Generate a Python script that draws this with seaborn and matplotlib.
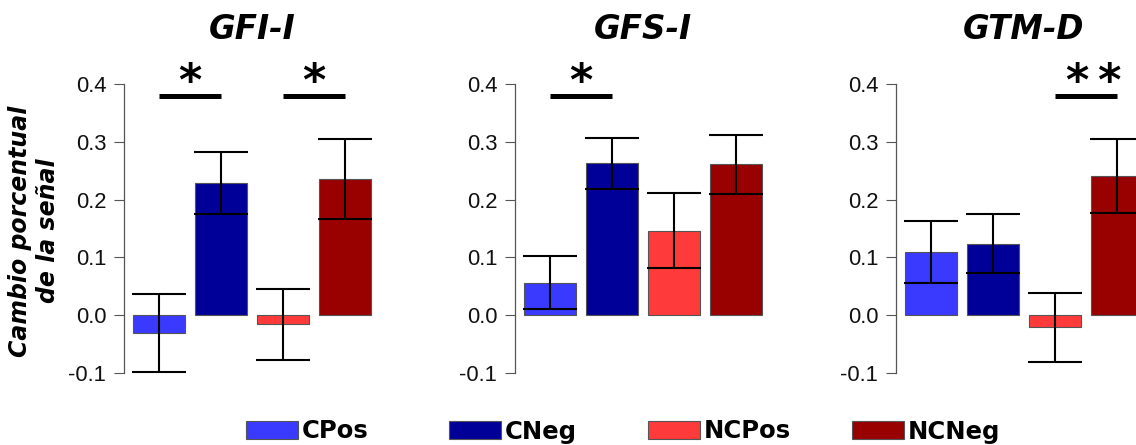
import matplotlib
matplotlib.use("Agg")
import matplotlib.pyplot as plt
import seaborn as sns
import pandas as pd
from matplotlib.patches import Patch

# ---- data ----
groups = ["CPos", "CNeg", "NCPos", "NCNeg"]
colors = ["#3a3aff", "#000099", "#ff3a3a", "#990000"]
titles = ["GFI-I", "GFS-I", "GTM-D"]
gfi_mean = [-0.031, 0.229, -0.016, 0.235]
gfi_err = [0.067, 0.054, 0.062, 0.069]
gfs_mean = [0.056, 0.263, 0.146, 0.261]
gfs_err = [0.046, 0.044, 0.065, 0.051]
gtm_mean = [0.109, 0.124, -0.021, 0.240]
gtm_err = [0.054, 0.051, 0.060, 0.064]
sig_gfi = [(0, 1, "*"), (2, 3, "*")]
sig_gfs = [(0, 1, "*")]
sig_gtm = [(2, 3, "*\u2009*")]
yticks = [-0.1, 0.0, 0.1, 0.2, 0.3, 0.4]
ytick_labels = ["-0.1", "0.0", "0.1", "0.2", "0.3", "0.4"]
ylabel = "Cambio porcentual\nde la señal"

panels = [
    (titles[0], gfi_mean, gfi_err, sig_gfi),
    (titles[1], gfs_mean, gfs_err, sig_gfs),
    (titles[2], gtm_mean, gtm_err, sig_gtm),
]

sns.set_style("white")
plt.rcParams["font.family"] = ["DejaVu Sans"]
plt.rcParams["text.color"] = "black"

W, H = 1136, 445
fig = plt.figure(figsize=(W / 100, H / 100), dpi=100)

ax_lefts_px = [124, 515, 896]
ax_w_px = 255
ax_top_px, ax_bot_px = 84, 373

for (title, means, errs, sigs), left in zip(panels, ax_lefts_px):
    ax = fig.add_axes([left / W, (H - ax_bot_px) / H, ax_w_px / W,
                       (ax_bot_px - ax_top_px) / H])
    df = pd.DataFrame({"grupo": groups, "valor": means})
    sns.barplot(data=df, x="grupo", y="valor", hue="grupo", order=groups,
                hue_order=groups, palette=colors, saturation=1, width=0.84,
                errorbar=None, edgecolor="#555555", linewidth=0.8,
                legend=False, ax=ax)
    ax.errorbar(range(len(groups)), means, yerr=errs, fmt="none",
                ecolor="black", elinewidth=1.5, capsize=19.5, capthick=1.5,
                clip_on=False, zorder=5)
    ax.set_xlim(-0.565, 3.55)
    ax.set_ylim(-0.1, 0.4)
    ax.set_yticks(yticks)
    ax.set_yticklabels(ytick_labels, family="Liberation Sans", fontsize=15.8,
                       color="#111111")
    ax.set_xticks([])
    ax.set_xlabel("")
    ax.set_ylabel("")
    for s in ["top", "right", "bottom"]:
        ax.spines[s].set_visible(False)
    ax.spines["left"].set_color("#555555")
    ax.spines["left"].set_linewidth(0.9)
    ax.tick_params(axis="y", direction="out", length=7.2, width=0.8,
                   color="#555555", pad=5.5, left=True)
    ax.text(1.5, 0.495, title, ha="center", va="center", fontsize=23.5,
            fontweight="bold", fontstyle="italic", color="black",
            clip_on=False)
    for i, j, star in sigs:
        ax.plot([i, j], [0.3785, 0.3785], color="black", lw=3.6,
                solid_capstyle="butt", clip_on=False)
        dx = 0.13 if len(star) > 1 else 0.0
        ax.text((i + j) / 2 + dx, 0.381, star, ha="center", va="baseline",
                fontsize=32, fontweight="bold", color="black", clip_on=False)

fig.text(34 / W, (H - 231) / H, ylabel, rotation=90, ha="center",
         va="center", fontsize=17, fontweight="bold", fontstyle="italic",
         multialignment="center", linespacing=1.2, color="black")

leg_x_px = [246, 449, 648, 852]
for g, c, xp in zip(groups, colors, leg_x_px):
    h = Patch(facecolor=c, edgecolor="#555555", linewidth=0.8, label=g)
    fig.legend(handles=[h], loc="center left",
               bbox_to_anchor=(xp / W, 13.5 / H), frameon=False,
               borderpad=0, borderaxespad=0, handlelength=2.14,
               handleheight=0.78, handletextpad=0.17,
               prop={"family": "DejaVu Sans", "weight": "bold", "size": 17.5})

fig.savefig("out.png", dpi=100)
